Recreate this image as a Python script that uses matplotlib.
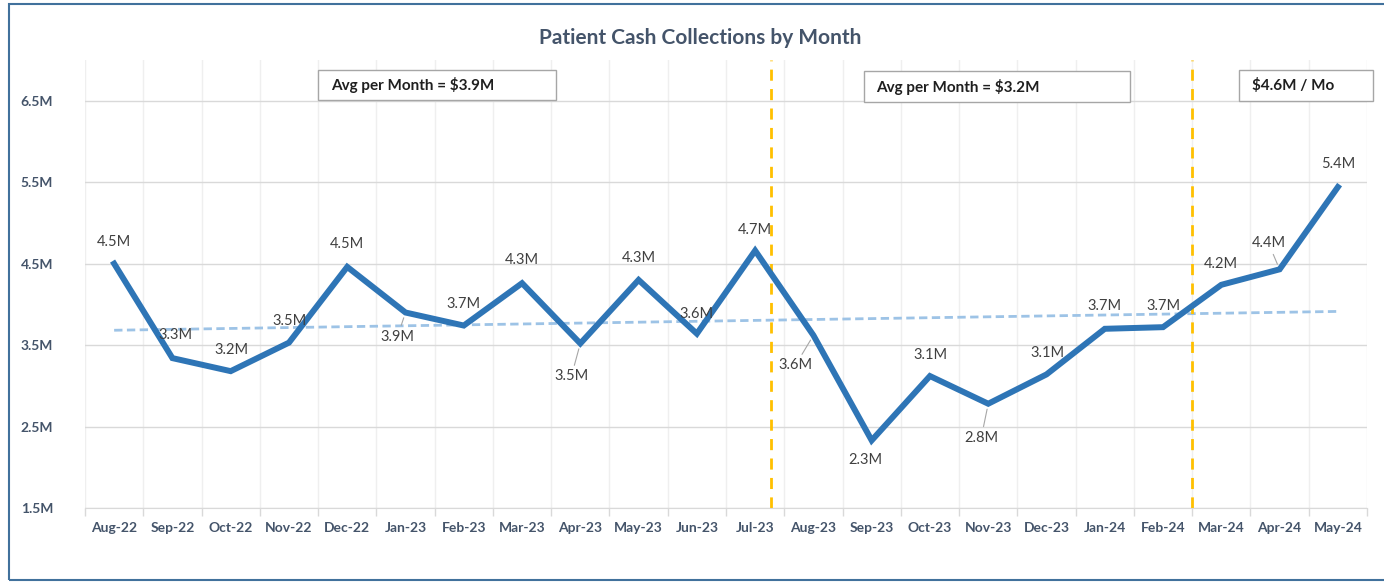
import numpy as np
import matplotlib
matplotlib.use("Agg")
import matplotlib.pyplot as plt
from matplotlib.patches import Rectangle

# ---- data ----
months = ["Aug-22", "Sep-22", "Oct-22", "Nov-22", "Dec-22", "Jan-23", "Feb-23", "Mar-23",
          "Apr-23", "May-23", "Jun-23", "Jul-23", "Aug-23", "Sep-23", "Oct-23", "Nov-23",
          "Dec-23", "Jan-24", "Feb-24", "Mar-24", "Apr-24", "May-24"]
collections_m = [4.50, 3.34, 3.18, 3.53, 4.46, 3.90, 3.74, 4.26, 3.52, 4.30, 3.64,
                 4.66, 3.62, 2.33, 3.12, 2.78, 3.14, 3.70, 3.72, 4.24, 4.43, 5.44]
y_ticks = [1.5, 2.5, 3.5, 4.5, 5.5, 6.5]
period_notes = ["Avg per Month = $3.9M", "Avg per Month = $3.2M", "$4.6M / Mo"]
title = "Patient Cash Collections by Month"

# ---- styling / positions ----
label_offsets = [(0, 22), (3, 23), (1, 21), (1, 22), (0, 23), (-8, -24), (0, 22), (0, 23),
                 (-9, -33), (0, 22), (0, 20), (0, 21), (-18, -30), (-6, -20), (1, 21),
                 (-7, -34), (1, 21), (0, 23), (0, 21), (0, 21), (-11, 26), (0, 23)]
leader = {5, 8, 12, 15, 20}
divider_x = [11.27, 18.5]
note_boxes = [(3.5, 6.51, 4.08, 0.37), (12.86, 6.48, 4.57, 0.38), (19.31, 6.50, 2.3, 0.38)]

FONT = "Lato"
LINE_C = "#2E75B6"
TEXT_C = "#44546A"
LABEL_C = "#404040"

fig = plt.figure(figsize=(13.84, 5.83), dpi=100)
ax = fig.add_axes([85/1384, 1-508/583, (1367-85)/1384, (508-60)/583])

x = np.arange(len(months))
y = np.array(collections_m)

# trend line (linear fit)
coef = np.polyfit(x, y, 1)
ax.plot(x, np.polyval(coef, x), color="#9DC3E6", lw=2.0, ls=(0, (3, 1.6)), zorder=2)

ax.plot(x, y, color=LINE_C, lw=4.3, solid_joinstyle="miter", zorder=3)

for xv in divider_x:
    ax.axvline(xv, color="#FFC000", lw=2.0, ls=(0, (4, 3)), zorder=2.5)

for i, (xi, yi) in enumerate(zip(x, y)):
    dx, dy = label_offsets[i]
    kw = {}
    if i in leader:
        kw["arrowprops"] = dict(arrowstyle="-", color="#A6A6A6", lw=0.8, shrinkA=1, shrinkB=4)
    ax.annotate(f"{yi:.1f}M", (xi, yi), xytext=(dx, dy), textcoords="offset pixels",
                ha="center", va="center", fontsize=10.5, color=LABEL_C, family=FONT,
                zorder=4, **kw)

ax.set_xlim(-0.5, len(months) - 0.5)
ax.set_ylim(1.5, 7.0)
ax.set_yticks(y_ticks)
ax.set_yticklabels([f"{t:.1f}M" for t in y_ticks])
ax.set_xticks(x)
ax.set_xticklabels(months)
ax.set_xticks(np.arange(-0.5, len(months)), minor=True)

ax.tick_params(axis="x", which="major", length=0, pad=10, labelsize=10, labelcolor=TEXT_C)
ax.tick_params(axis="x", which="minor", length=6, color="#D9D9D9", width=1)
ax.tick_params(axis="y", length=0, pad=23, labelsize=10, labelcolor=TEXT_C)
for lab in ax.get_xticklabels() + ax.get_yticklabels():
    lab.set_fontfamily(FONT)
    lab.set_fontweight("bold")

ax.grid(axis="y", which="major", color="#D9D9D9", lw=1)
ax.grid(axis="x", which="minor", color="#EFEFEF", lw=1)
ax.set_axisbelow(True)
for s in ["top", "right", "left"]:
    ax.spines[s].set_visible(False)
ax.spines["bottom"].set_color("#D9D9D9")

# notes
for (bx, by, bw, bh), txt in zip(note_boxes, period_notes):
    ax.add_patch(Rectangle((bx, by), bw, bh, facecolor="white", edgecolor="#A6A6A6",
                           lw=1, clip_on=False, zorder=5))
    ax.text(bx + 0.22, by + bh / 2, txt, ha="left", va="center", fontsize=11,
            fontweight="bold", color="#1F1F1F", family=FONT, zorder=6, clip_on=False)

fig.text(700/1384, 1-38/583, title, ha="center", va="center", fontsize=15,
         fontweight="bold", color=TEXT_C, family=FONT)

# outer frame
fig.add_artist(Rectangle((9/1384, 3/583), 1.2, 1-7/583, transform=fig.transFigure,
                         facecolor="none", edgecolor="#41719C", lw=1.5))

fig.savefig("out.png", dpi=100)
